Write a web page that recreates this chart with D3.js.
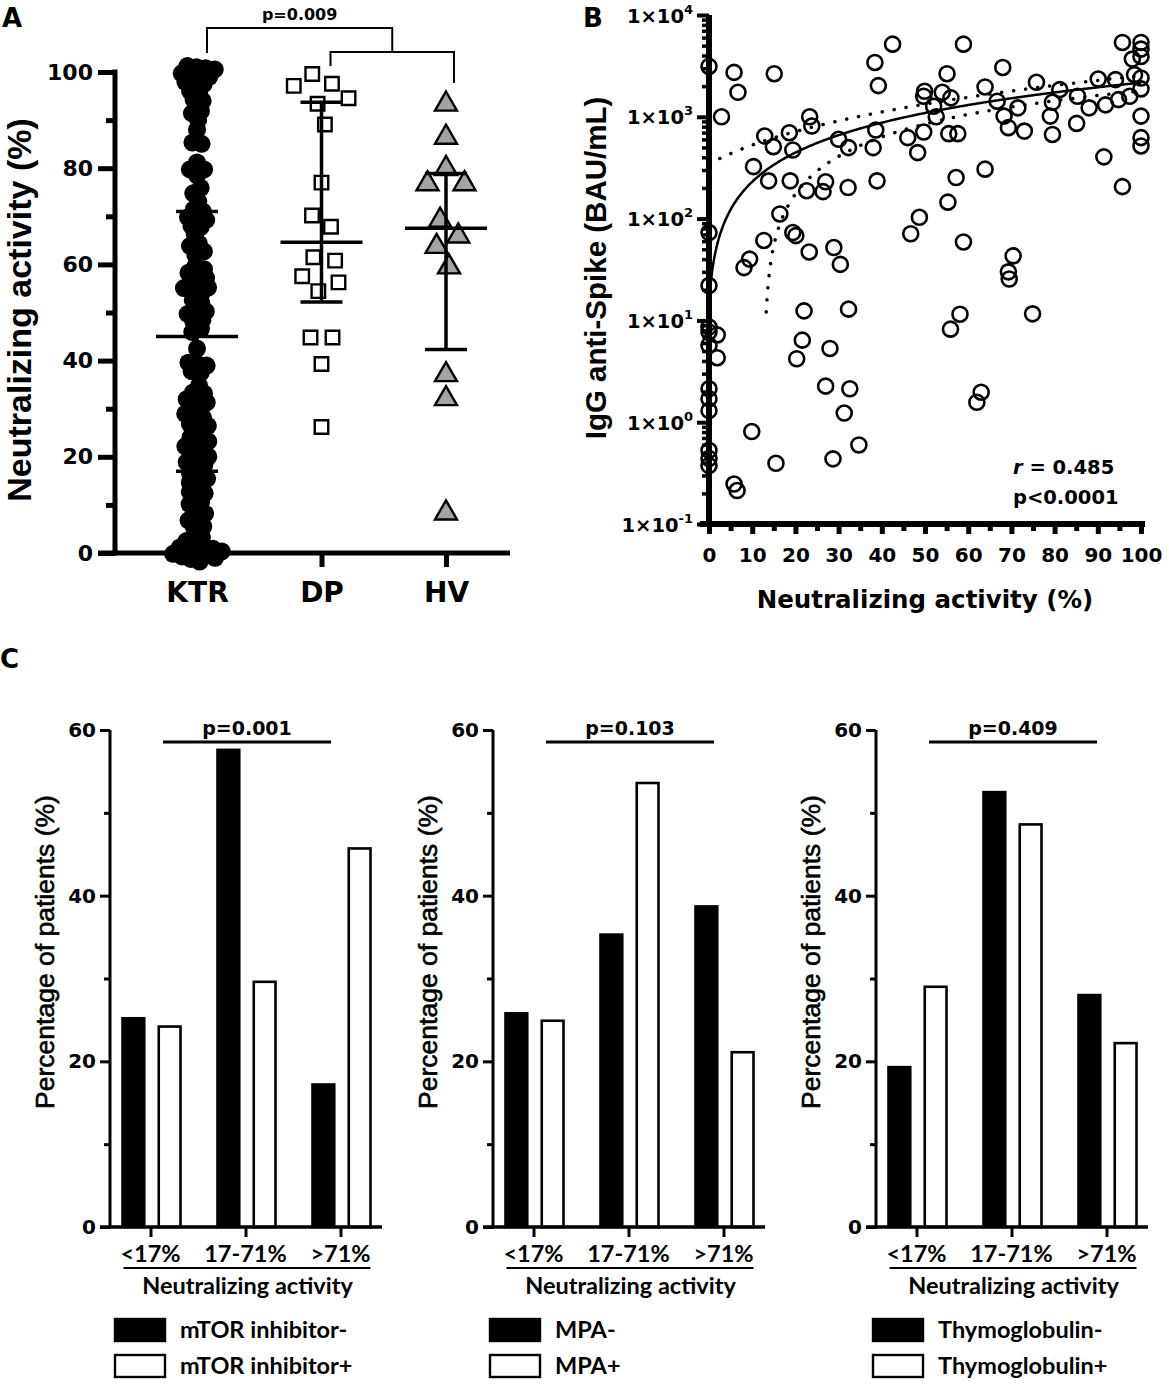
<!DOCTYPE html>
<html>
<head>
<meta charset="utf-8">
<title>Neutralizing activity</title>
<script src="https://cdn.jsdelivr.net/npm/d3@7/dist/d3.min.js"></script>
<style>
  body { margin: 0; background: #fff; }
  svg text { fill: #000; }
</style>
</head>
<body>
<div id="chart"></div>
<script>
// ---------- data ----------
// Panel A: neutralizing activity (%) per group
const groupsA = ['KTR', 'DP', 'HV'];
const dpNeut = [99.2, 97.5, 97.3, 94.8, 93.3, 89.2, 77.0, 70.1, 67.9, 61.3, 60.6, 57.6, 56.4, 54.6, 44.8, 44.8, 39.3, 26.2];
const hvNeut = [93.3, 86.4, 79.6, 76.9, 76.9, 69.1, 65.9, 63.7, 59.5, 36.6, 32.5, 8.3];
// q1, median, q3 as drawn
const ktrIqr = [17, 45, 71];
const dpIqr = [52.2, 64.6, 93.7];
const hvIqr = [42.3, 67.5, 78.9];

// Panel B: one entry per KTR patient (neutralizing %, IgG BAU/mL)
const spikeNeut = [0, 5.8, 6.7, 2.9, 0, 0, 15.1, 10.3, 12.9, 14.9, 13.8, 18.6, 19.4, 18.8, 23.3, 23.8, 22.6, 26.4, 27.0, 16.4,
  19.4, 20.1, 12.7, 23.2, 28.9, 30.4, 9.4, 8.1, 30.0, 32.3, 32.2, 38.4, 39.2, 42.5, 38.6, 38.0, 38.9, 46.0, 48.3, 49.7,
  49.9, 49.7, 52.0, 52.6, 54.0, 55.1, 56.0, 55.5, 57.6, 58.9, 57.2, 55.3, 48.7, 46.7, 58.9, 63.9, 63.9, 66.7, 68.0, 68.3,
  69.3, 71.5, 73.0, 75.8, 79.5, 79.0, 79.5, 81.2, 85.3, 85.1, 88.0, 90.1, 91.8, 94.1, 94.8, 91.4, 95.7, 95.7, 98.0, 100,
  100, 100, 98.5, 100, 100, 100, 100, 100, 97.4, 22.0, 32.3, 58.1, 74.9, 55.9, 0, 1.9, 0, 1.9, 0, 0,
  0, 0, 0, 0, 0, 9.9, 5.8, 6.5, 15.5, 21.6, 20.3, 28.0, 27.0, 32.6, 31.3, 28.7, 34.7, 63.0, 62.0, 70.4,
  69.3, 69.5];
const spikeIgG = [3126, 2730, 1742, 1000, 73, 22, 2650, 324, 647, 509, 235, 698, 472, 235, 1000, 811, 188, 184, 230, 111,
  73, 68, 61, 47, 52, 35.5, 40, 33, 601, 498, 202, 3420, 2025, 5170, 741, 498, 235, 624, 445, 708,
  1782, 1592, 1271, 1000, 1742, 2650, 1535, 683, 683, 5170, 253, 145, 103, 71, 59, 1963, 306, 1422, 3055, 1016,
  782, 1225, 724, 2184, 1390, 1016, 671, 1849, 1592, 861, 1225, 2350, 1310, 2318, 1475, 404, 206, 5370, 3690, 5370,
  4625, 3915, 2594, 2405, 1879, 1016, 624, 517, 1592, 12.4, 12.9, 11.5, 11.6, 8.2, 7.7, 7.2, 5.7, 4.3, 2.13, 1.70,
  1.30, 0.53, 0.44, 0.375, 8.6, 0.81, 0.247, 0.213, 0.395, 6.4, 4.2, 5.3, 2.26, 2.13, 1.23, 0.436, 0.598, 1.97, 1.57, 43,
  30, 25.5];
const ktrNeut = spikeNeut;          // same patients as panel A
const fitLine = [15, 21.5];         // intercept, slope of the linear fit
const fitBand = [45, 240, 5];       // x mean, half width at the mean, growth away from it
const corrLines = ['= 0.485', 'p<0.0001'];

// Panel C: percentage of patients per neutralizing bin
const binsC = ['<17%', '17-71%', '>71%'];
const mtorNeg = [25.2, 57.6, 17.2];
const mtorPos = [24.2, 29.6, 45.7];
const mpaNeg = [25.8, 35.3, 38.7];
const mpaPos = [24.9, 53.6, 21.1];
const thymoNeg = [19.3, 52.5, 28.0];
const thymoPos = [29.0, 48.6, 22.2];
const legendNames = [['mTOR inhibitor-', 'mTOR inhibitor+'], ['MPA-', 'MPA+'], ['Thymoglobulin-', 'Thymoglobulin+']];
const pTextsC = ['p=0.001', 'p=0.103', 'p=0.409'];

// ---------- setup ----------
const BOLD = "'DejaVu Sans', Verdana, sans-serif";
const ARIAL = "'Liberation Sans', Arial, sans-serif";
const CALIBRI = "Lato, 'Open Sans', sans-serif";

const svg = d3.select('#chart').append('svg')
  .attr('width', 1169).attr('height', 1384);

function styleTicks(sel, font, size, weight) {
  sel.select('.domain').remove();
  sel.selectAll('line').attr('stroke', '#000');
  sel.selectAll('text').attr('font-family', font).attr('font-size', size).attr('font-weight', weight || 'bold');
}

// panel letters
[['A', 2, 27], ['B', 583, 27], ['C', 0, 668]].forEach(([t, x, y]) => {
  svg.append('text').attr('x', x).attr('y', y).text(t)
    .attr('font-family', BOLD).attr('font-weight', 'bold').attr('font-size', 26);
});

/////////////////////////////////////////////////////////
//////////////////////// Panel A ////////////////////////
/////////////////////////////////////////////////////////
const yA = d3.scaleLinear().domain([0, 100]).range([553, 72]);
const xA = d3.scalePoint().domain(groupsA).range([197, 446]);
const axA = 115;
const gA = svg.append('g');

// swarm layout, the way GraphPad spreads points around the group centre
function swarm(values, cx, radius, pull) {
  const nodes = values.map(v => ({v: v, x: cx, y: yA(v), ty: yA(v)}));
  const sim = d3.forceSimulation(nodes)
    .force('x', d3.forceX(cx).strength(pull))
    .force('y', d3.forceY(d => d.ty).strength(1))
    .force('collide', d3.forceCollide(radius))
    .stop();
  for (let i = 0; i < 300; i++) sim.tick();
  return nodes;
}

gA.append('g').selectAll('circle')
  .data(swarm(ktrNeut, xA('KTR'), 4.6, 0.2)).join('circle')
  .attr('cx', d => d.x).attr('cy', d => d.y).attr('r', 9).attr('fill', '#000');

gA.append('g').selectAll('path')
  .data(swarm(dpNeut, xA('DP'), 11, 0.05)).join('path')
  .attr('transform', d => `translate(${d.x},${d.y})`)
  .attr('d', d3.symbol(d3.symbolSquare, 13.5 * 13.5))
  .attr('fill', '#fff').attr('stroke', '#000').attr('stroke-width', 2.4);

gA.append('g').selectAll('path')
  .data(swarm(hvNeut, xA('HV'), 12, 0.05)).join('path')
  .attr('transform', d => `translate(${d.x},${d.y})`)
  .attr('d', d3.symbol(d3.symbolTriangle, 210))
  .attr('fill', '#a3a3a3').attr('stroke', '#000').attr('stroke-width', 2.4);

// median with interquartile range
[['KTR', ktrIqr], ['DP', dpIqr], ['HV', hvIqr]].forEach(([grp, q]) => {
  const cx = xA(grp);
  const g = gA.append('g').attr('stroke', '#000').attr('stroke-width', 3.5);
  g.append('line').attr('x1', cx).attr('x2', cx).attr('y1', yA(q[0])).attr('y2', yA(q[2]));
  g.append('line').attr('x1', cx - 21).attr('x2', cx + 21).attr('y1', yA(q[0])).attr('y2', yA(q[0]));
  g.append('line').attr('x1', cx - 21).attr('x2', cx + 21).attr('y1', yA(q[2])).attr('y2', yA(q[2]));
  g.append('line').attr('x1', cx - 41).attr('x2', cx + 41).attr('y1', yA(q[1])).attr('y2', yA(q[1]));
});

// axes
gA.append('g').attr('transform', `translate(${axA},0)`)
  .call(d3.axisLeft(yA).tickValues(d3.range(0, 101, 20)).tickSize(17).tickPadding(5))
  .call(g => styleTicks(g, BOLD, 22))
  .selectAll('line').attr('stroke-width', 5);
gA.append('g').attr('transform', `translate(${axA},0)`)
  .call(d3.axisLeft(yA).tickValues(d3.range(10, 100, 20)).tickSize(9).tickFormat(''))
  .call(g => styleTicks(g, BOLD, 22))
  .selectAll('line').attr('stroke-width', 5);
gA.append('line').attr('x1', axA).attr('x2', axA).attr('y1', yA(100)).attr('y2', yA(0))
  .attr('stroke', '#000').attr('stroke-width', 5).attr('stroke-linecap', 'square');
gA.append('line').attr('x1', axA - 17).attr('x2', 510).attr('y1', yA(0)).attr('y2', yA(0))
  .attr('stroke', '#000').attr('stroke-width', 5);
gA.append('g').attr('transform', `translate(0,${yA(0)})`)
  .call(d3.axisBottom(xA).tickSize(14).tickPadding(15))
  .call(g => styleTicks(g, BOLD, 28))
  .selectAll('line').attr('stroke-width', 5);

gA.append('text').attr('transform', 'translate(31,310) rotate(-90)')
  .attr('text-anchor', 'middle').attr('font-family', ARIAL).attr('font-weight', 'bold').attr('font-size', 34)
  .text('Neutralizing activity (%)');

// significance bracket
const brL = xA('KTR') + 10, brA = xA('DP') + 9, brB = xA('HV') + 8, brR = (brA + brB) / 2;
gA.append('path')
  .attr('d', `M${brL},53V28H${brR}V52 M${brA},66V52H${brB}V83`)
  .attr('fill', 'none').attr('stroke', '#000').attr('stroke-width', 2);
gA.append('text').attr('x', (brL + brR) / 2).attr('y', 20).attr('text-anchor', 'middle')
  .attr('font-family', BOLD).attr('font-weight', 'bold').attr('font-size', 16).text('p=0.009');

/////////////////////////////////////////////////////////
//////////////////////// Panel B ////////////////////////
/////////////////////////////////////////////////////////
const xB = d3.scaleLinear().domain([0, 100]).range([709, 1141]);
const yB = d3.scaleLog().domain([0.1, 10000]).range([524, 15]);
const gB = svg.append('g');
const decades = [0.1, 1, 10, 100, 1000, 10000];

const fit = x => fitLine[0] + fitLine[1] * x;
const half = x => Math.sqrt(fitBand[1] * fitBand[1] + Math.pow(fitBand[2] * (x - fitBand[0]), 2));
const xs = d3.range(0, 100.001, 0.25);
const lineB = d3.line().x(d => xB(d[0])).y(d => yB(d[1]));

gB.append('path').datum(xs.map(x => [x, fit(x)]).filter(d => d[1] >= 12))
  .attr('d', lineB).attr('fill', 'none').attr('stroke', '#000').attr('stroke-width', 2.5);
gB.append('path').datum(xs.map(x => [x, fit(x) + half(x)]))
  .attr('d', lineB).attr('fill', 'none').attr('stroke', '#000').attr('stroke-width', 3.5)
  .attr('stroke-linecap', 'round').attr('stroke-dasharray', '0.1 12');
gB.append('path').datum(xs.map(x => [x, fit(x) - half(x)]).filter(d => d[1] >= 10))
  .attr('d', lineB).attr('fill', 'none').attr('stroke', '#000').attr('stroke-width', 3.5)
  .attr('stroke-linecap', 'round').attr('stroke-dasharray', '0.1 12');

gB.append('g').selectAll('circle')
  .data(spikeNeut.map((x, i) => [x, spikeIgG[i]])).join('circle')
  .attr('cx', d => xB(d[0])).attr('cy', d => yB(d[1])).attr('r', 7.5)
  .attr('fill', 'none').attr('stroke', '#000').attr('stroke-width', 2.6);

// axes
gB.append('g').attr('transform', `translate(${xB(0)},0)`)
  .call(d3.axisLeft(yB).tickValues(decades).tickSize(12).tickFormat(''))
  .call(g => styleTicks(g, BOLD, 20))
  .selectAll('line').attr('stroke-width', 4);
gB.append('g').attr('transform', `translate(${xB(0)},0)`)
  .call(d3.axisLeft(yB).tickValues(yB.ticks().filter(t => !decades.includes(t))).tickSize(7).tickFormat(''))
  .call(g => styleTicks(g, BOLD, 20))
  .selectAll('line').attr('stroke-width', 3.5);
gB.selectAll('.ylab').data(decades).join('text')
  .attr('class', 'ylab')
  .attr('x', xB(0) - 16).attr('y', d => yB(d) + 7.5).attr('text-anchor', 'end')
  .attr('font-family', BOLD).attr('font-weight', 'bold').attr('font-size', 19.5)
  .each(function(d) {
    const t = d3.select(this);
    t.append('tspan').text('1×10');
    t.append('tspan').attr('dy', -9).attr('font-size', 13).text(Math.round(Math.log10(d)));
  });
gB.append('g').attr('transform', `translate(0,${yB(0.1)})`)
  .call(d3.axisBottom(xB).ticks(10).tickSize(10).tickPadding(14))
  .call(g => styleTicks(g, BOLD, 20))
  .selectAll('line').attr('stroke-width', 5);
gB.append('g').attr('transform', `translate(0,${yB(0.1)})`)
  .call(d3.axisBottom(xB).tickValues(d3.range(5, 100, 10)).tickSize(7).tickFormat(''))
  .call(g => styleTicks(g, BOLD, 20))
  .selectAll('line').attr('stroke-width', 5);
gB.append('line').attr('x1', xB(0)).attr('x2', xB(0)).attr('y1', yB(10000)).attr('y2', yB(0.1) + 3)
  .attr('stroke', '#000').attr('stroke-width', 6);
gB.append('line').attr('x1', xB(0) - 9).attr('x2', xB(100) + 4).attr('y1', yB(0.1)).attr('y2', yB(0.1))
  .attr('stroke', '#000').attr('stroke-width', 6);

gB.append('text').attr('x', 925).attr('y', 608).attr('text-anchor', 'middle')
  .attr('font-family', BOLD).attr('font-weight', 'bold').attr('font-size', 24.5)
  .text('Neutralizing activity (%)');
gB.append('text').attr('transform', 'translate(606,268) rotate(-90)')
  .attr('text-anchor', 'middle').attr('font-family', ARIAL).attr('font-weight', 'bold').attr('font-size', 29.5)
  .text('IgG anti-Spike (BAU/mL)');

const corr = gB.append('text').attr('x', 1013).attr('y', 474)
  .attr('font-family', BOLD).attr('font-weight', 'bold').attr('font-size', 19.5);
corr.append('tspan').attr('font-style', 'italic').text('r');
corr.append('tspan').text(' ' + corrLines[0]);
gB.append('text').attr('x', 1013).attr('y', 504)
  .attr('font-family', BOLD).attr('font-weight', 'bold').attr('font-size', 19.5).text(corrLines[1]);

/////////////////////////////////////////////////////////
//////////////////////// Panel C ////////////////////////
/////////////////////////////////////////////////////////
const yC = d3.scaleLinear().domain([0, 60]).range([1227, 730]);
const sub = d3.scaleBand().domain(['neg', 'pos']).range([-28, 30]).paddingInner(0.4);
const panelsC = [
  {left: 110, legendX: 115, neg: mtorNeg, pos: mtorPos},
  {left: 493, legendX: 490, neg: mpaNeg, pos: mpaPos},
  {left: 876, legendX: 873, neg: thymoNeg, pos: thymoPos}
];

panelsC.forEach((pc, i) => {
  const g = svg.append('g');
  const x = d3.scalePoint().domain(binsC).range([pc.left + 40.5, pc.left + 230.5]);

  // bars
  [['neg', pc.neg, '#000'], ['pos', pc.pos, '#fff']].forEach(([key, vals, fill]) => {
    g.append('g').selectAll('rect').data(binsC.map((b, j) => [b, vals[j]])).join('rect')
      .attr('x', d => x(d[0]) + sub(key)).attr('width', sub.bandwidth())
      .attr('y', d => yC(d[1])).attr('height', d => yC(0) - yC(d[1]))
      .attr('fill', fill).attr('stroke', '#000').attr('stroke-width', 2.6);
  });

  // y axis
  g.append('g').attr('transform', `translate(${pc.left},0)`)
    .call(d3.axisLeft(yC).tickValues([0, 20, 40, 60]).tickSize(10).tickPadding(4))
    .call(s => styleTicks(s, BOLD, 20))
    .selectAll('line').attr('stroke-width', 3);
  g.append('g').attr('transform', `translate(${pc.left},0)`)
    .call(d3.axisLeft(yC).tickValues([10, 30, 50]).tickSize(6).tickFormat(''))
    .call(s => styleTicks(s, BOLD, 20))
    .selectAll('line').attr('stroke-width', 3);
  g.append('line').attr('x1', pc.left).attr('x2', pc.left).attr('y1', yC(60)).attr('y2', yC(0))
    .attr('stroke', '#000').attr('stroke-width', 3);

  // x axis
  g.append('line').attr('x1', pc.left - 10).attr('x2', pc.left + 272).attr('y1', yC(0)).attr('y2', yC(0))
    .attr('stroke', '#000').attr('stroke-width', 3.5);
  g.append('g').attr('transform', `translate(0,${yC(0)})`)
    .call(d3.axisBottom(x).tickSize(10).tickPadding(0).tickFormat(''))
    .call(s => styleTicks(s, CALIBRI, 23))
    .selectAll('line').attr('stroke-width', 3);
  g.selectAll('.bin').data(binsC).join('text')
    .attr('x', d => x(d)).attr('y', 1262).attr('text-anchor', 'middle')
    .attr('font-family', CALIBRI).attr('font-weight', 'bold').attr('font-size', 23.5).text(d => d);
  g.append('line').attr('x1', x(binsC[0]) - 27).attr('x2', x(binsC[2]) + 30).attr('y1', 1268).attr('y2', 1268)
    .attr('stroke', '#000').attr('stroke-width', 2);
  g.append('text').attr('x', (x(binsC[0]) + x(binsC[2])) / 2 + 2).attr('y', 1294).attr('text-anchor', 'middle')
    .attr('font-family', CALIBRI).attr('font-weight', 'bold').attr('font-size', 23.5).text('Neutralizing activity');

  // y title
  g.append('text').attr('transform', `translate(${pc.left - 56},952) rotate(-90)`)
    .attr('text-anchor', 'middle').attr('font-family', ARIAL).attr('font-size', 26.5)
    .attr('stroke', '#000').attr('stroke-width', 0.6)
    .text('Percentage of patients (%)');

  // p value
  g.append('line').attr('x1', pc.left + 53).attr('x2', pc.left + 221).attr('y1', 742).attr('y2', 742)
    .attr('stroke', '#000').attr('stroke-width', 3);
  g.append('text').attr('x', pc.left + 137).attr('y', 735).attr('text-anchor', 'middle')
    .attr('font-family', BOLD).attr('font-weight', 'bold').attr('font-size', 19).text(pTextsC[i]);

  // legend
  legendNames[i].forEach((name, j) => {
    g.append('rect').attr('x', pc.legendX).attr('y', 1319 + j * 36).attr('width', 50).attr('height', 22)
      .attr('fill', j === 0 ? '#000' : '#fff').attr('stroke', '#000').attr('stroke-width', 2.4);
    g.append('text').attr('x', pc.legendX + 65).attr('y', 1338 + j * 36)
      .attr('font-family', CALIBRI).attr('font-weight', 'bold').attr('font-size', 23.5).text(name);
  });
});
</script>
</body>
</html>
